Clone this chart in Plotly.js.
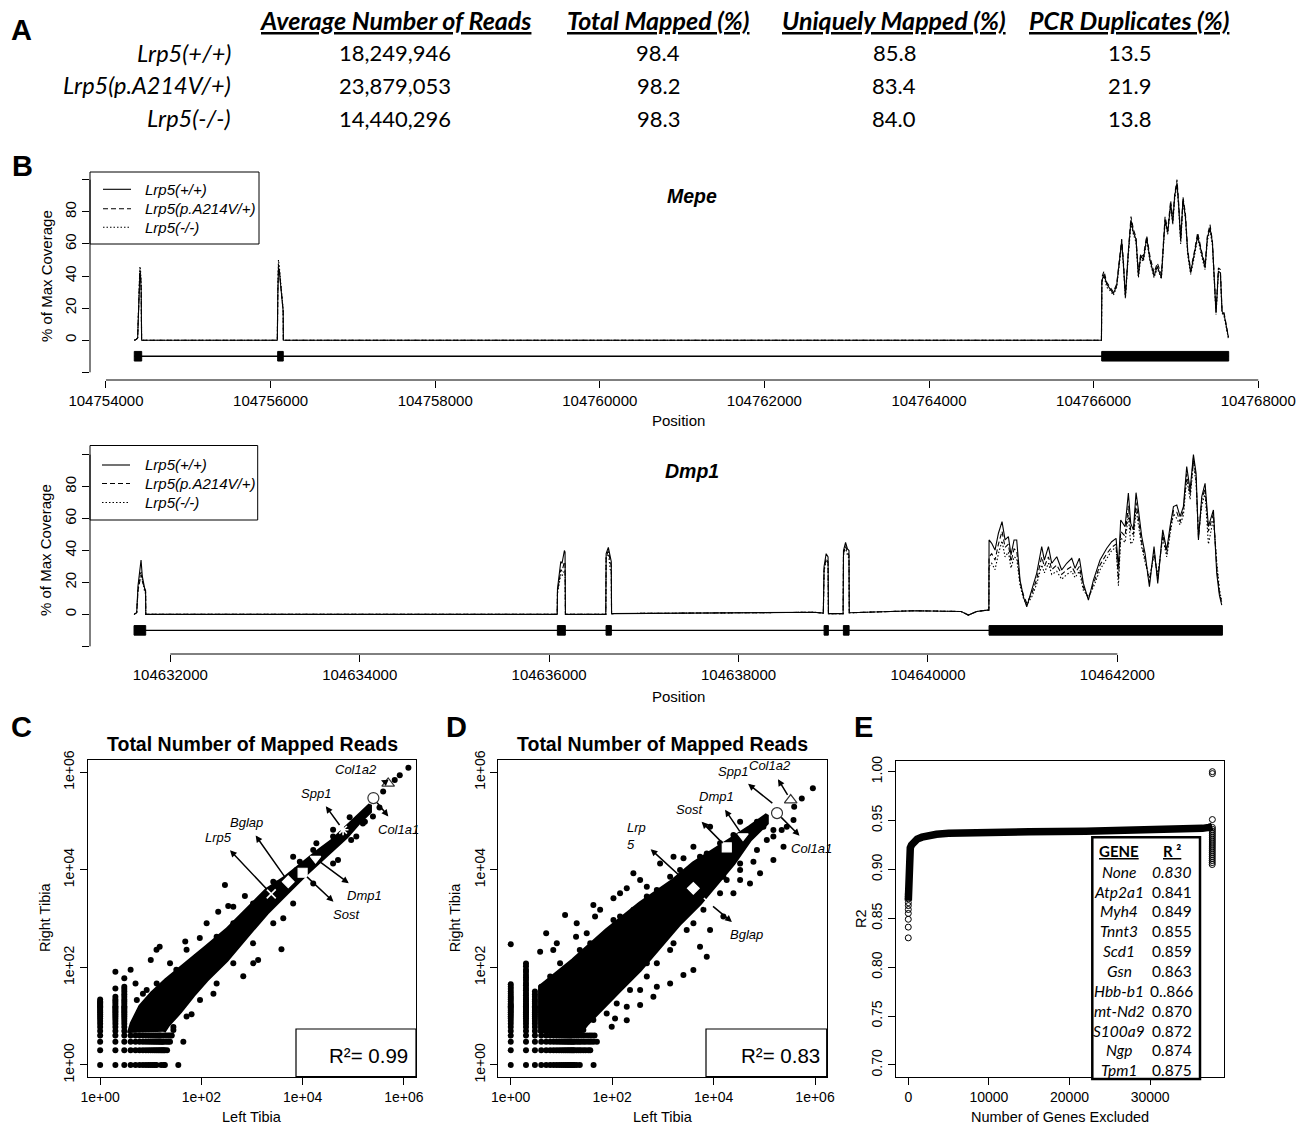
<!DOCTYPE html>
<html><head><meta charset="utf-8">
<script src="https://cdn.plot.ly/plotly-3.0.1.min.js"></script>
<style>html,body{margin:0;padding:0;background:#fff}#chart{width:1307px;height:1124px}</style>
</head><body><div id="chart"></div>
<script>
// ---------------- Panel A: table ----------------
const aGenotypes = ['Lrp5(+/+)', 'Lrp5(p.A214V/+)', 'Lrp5(-/-)'];
const aHeaders = ['Average Number of Reads', 'Total Mapped (%)', 'Uniquely Mapped (%)', 'PCR Duplicates (%)'];
const aAvgReads = [18249946, 23879053, 14440296];
const aTotalMapped = [98.4, 98.2, 98.3];
const aUniquelyMapped = [85.8, 83.4, 84.0];
const aPcrDuplicates = [13.5, 21.9, 13.8];

// ---------------- Panel B: coverage ----------------
const genotypeNames = ['Lrp5(+/+)', 'Lrp5(p.A214V/+)', 'Lrp5(-/-)'];
const mepeTicks = [104754000, 104756000, 104758000, 104760000, 104762000, 104764000, 104766000, 104768000];
const mepePos = [104754344,104754370,104754385,104754392,104754402,104754412,104754420,104754428,104754433,
  104756082,104756088,104756096,104756106,104756116,104756126,104756136,104756146,104756153,104756155,
  104760000,104766095,
  104766100,104766106,104766126,104766159,104766199,104766240,104766280,104766309,104766341,104766361,
  104766386,104766422,104766454,104766483,104766515,104766544,104766572,104766604,104766645,104766685,
  104766734,104766774,104766823,104766868,104766900,104766936,104766961,104766985,104767013,104767034,
  104767058,104767086,104767115,104767143,104767179,104767220,104767264,104767309,104767354,104767382,
  104767414,104767443,104767467,104767487,104767516,104767540,104767560,104767585,104767637];
const mepeWT = [0,0.5,1.5,15,35,42,40,30,0, 0,28,45,43,38,30,25,20,18,0, 0,0,
  36,38,41,35,32,29,34,46,62,48, 27,55,75,67,63,40,53,50,64,50, 40,46,39,75,67,85,73,90,98,83,
  62,88,77,55,42,53,65,55,45,64, 70,61,34,17,43,42,18,16,2];
const mepeA214V = [0,0.5,1.5,16,38,44,41,32,0, 0,30,47,44,38,31,26,19,18,0, 0,0,
  38,40,43,36,33,30,35,48,63,50, 28,56,77,69,64,42,54,52,65,52, 42,48,41,77,69,87,75,91,100,85,
  63,89,79,56,44,54,67,56,47,65, 72,62,35,18,45,44,19,17,2];
const mepeKO = [0,0.5,1.5,18,40,46,44,34,0, 0,32,50,46,40,32,27,21,19,0, 0,0,
  35,37,40,33,31,28,33,45,60,47, 26,53,73,66,61,39,51,49,62,49, 39,45,38,74,66,84,72,88,97,82,
  60,86,76,53,41,51,64,53,44,62, 69,59,33,16,42,41,17,15,1];
const mepeExonStart = [104754344, 104756086, 104766098];
const mepeExonEnd = [104754434, 104756154, 104767641];

const dmpTicks = [104632000, 104634000, 104636000, 104638000, 104640000, 104642000];
const dmpPos = [104631617,104631645,104631659,104631680,104631691,104631704,104631715,104631730,104631739,104631741,
  104633000,104635000,104636085,
  104636088,104636105,104636123,104636136,104636150,104636161,104636168,104636172,
  104636598,
  104636602,104636625,104636645,104636656,104636659,
  104637200,104638000,104638600,104638800,104638895,
  104638903,104638925,104638945,104638949,
  104639104,
  104639108,104639130,104639150,104639166,104639169,
  104639350,104639494,104639700,104639846,104640000,104640198,104640350,104640427,104640515,104640627,104640643,
  104640645,104640673,104640708,104640744,104640782,104640814,104640849,104640877,104640909,104640937,
  104640972,104641008,104641043,104641096,104641148,104641201,104641229,104641272,104641307,104641360,
  104641412,104641465,104641518,104641553,104641599,104641641,104641694,104641747,104641817,104641888,
  104641940,104641986,104642011,104642035,104642081,104642116,104642141,104642169,104642197,104642222,
  104642257,104642292,104642338,104642387,104642426,104642479,104642521,104642556,104642592,104642627,
  104642662,104642697,104642732,104642768,104642803,104642831,104642856,104642891,104642926,104642961,
  104643014,104643049,104643077,104643102];
const dmpWT = [0,1,18,28,34,24,20,16,15,0, 0,0,0, 16,25,33,32,36,40,39,0, 0, 38,42,35,33,0.5,
  0.6,0.7,0.8,1.3,0.8, 30,38,36,0.5, 0.5, 40,45,41,40,1,
  1.2,1.6,2.0,2.3,2.1,2.3,1.8,-0.4,1.8,2.7,2.6,
  46.6,44.5,40.3,50.8,58.1,46.6,48.7,37.2,46.6,46.6,
  21.5,11,4.8,15.2,25.7,42.4,34,42.4,32,36.1,
  27.8,32,35.1,28.8,35.1,19.4,9,21.5,34,41.4,
  45.5,47.6,29.8,59.1,54.9,75.9,57,52.9,76.2,65.4,
  48.7,38.2,17.3,42.4,19.4,52.9,40.3,54.9,67.5,68.5,
  61.2,67.5,92.5,77.9,100,88.4,46.6,73.7,82.1,54.9,
  65.4,25.7,12.1,5.8];
const dmpA214V = [0,1,15,22,25,21,19,15,14,0, 0,0,0, 14,20,28,27,30,33,32,0, 0, 36,40,32,30,0.5,
  0.6,0.7,0.8,1.3,0.8, 28,35,33,0.5, 0.5, 38,43,39,37,1,
  1.2,1.6,2.0,2.3,2.1,2.3,1.8,-0.4,1.8,2.7,2.6,
  36,38,34,44,52,42,44,33,41,40,
  20,12,7,13,22,36,30,36,28,31,
  25,28,30,26,30,17,10,19,31,38,
  42,44,22,52,49,68,52,50,70,60,
  45,35,20,40,22,50,38,52,65,64,
  58,65,88,75,98,85,48,72,79,52,
  63,30,14,7];
const dmpKO = [0,1,16,24,27,22,18,14,13,0, 0,0,0, 13,18,25,24,26,28,28,0, 0, 35,39,28,27,0.5,
  0.6,0.7,0.8,1.3,0.8, 27,34,32,0.5, 0.5, 37,42,37,35,1,
  1.2,1.6,2.0,2.3,2.1,2.3,1.8,-0.4,1.8,2.7,2.6,
  30,32,28,38,46,36,39,29,36,35,
  18,10,6,11,19,31,26,32,25,27,
  22,25,27,23,27,15,11,17,28,35,
  40,42,18,48,45,62,44,46,66,56,
  42,33,23,37,25,48,36,50,63,60,
  56,62,85,72,95,82,50,68,76,44,
  60,33,16,8];
const dmpExonStart = [104631617, 104636087, 104636601, 104638903, 104639107, 104640645];
const dmpExonEnd = [104631740, 104636171, 104636657, 104638948, 104639167, 104643109];

// ---------------- Panels C / D: mapped reads (left vs right tibia) ----------------
const logTickVals = [1, 100, 10000, 1000000];
const logTickText = ['1e+00', '1e+02', '1e+04', '1e+06'];
const geneNames = ['Lrp5', 'Bglap', 'Sost', 'Dmp1', 'Spp1', 'Col1a1', 'Col1a2'];

// C: dense core outline (left, right counts)
const cCoreLeft = [3.7,4.2,6.2,10.5,20,51,126,316,776,1950,4790,12000,21900,39800,74100,135000,214000,
  214000,135000,74100,29500,12000,4790,1950,776,316,126,69,38,22,18];
const cCoreRight = [4.5,7.1,15.8,29.5,55,120,263,589,1514,3890,7240,15850,25700,40700,75900,132000,214000,
  155000,97700,47900,20000,8500,3310,1290,427,141,55,27,12.3,6.6,4.8];
// C: low-count genes
const cCol1Right = [1,2,3,4,5,6,7,8,9,10,11,12,13,14,15,16,17,18,19,20,22];
const cCol2Right = [1,2,3,4,5,6,7,8,9,10,11,12,13,14,15,16,18,20,22,25];
const cCol3Right = [1,2,3,4,5,6,7,8,9,10,11,12,13,14,15,16,18,20,22,25,28,32,36,40];
const cRow1Left = [4,5,6,7,8,9,10,11,12,13,16,19];
const cRow2Left = [4,5,6,7,8,9,10,11,12,13,14,15,16,17,18,19,21];
const cRow3Left = [4,5,6,7,8,9,10,11,12,13,14,15,16,17,18,20,22,24];
const cRow4Left = [4,5,6,7,8,9,10,11,12,13,14,15,16,18,20,22,24,26];
// C: scattered genes
const cOutLeft = [292,724,339,215,48,93,51,13,15,10,4,2,2,3,24,6500,16200,4150,3820,672,1060,1320,64,41,28,44,35,18,
  91000,155000,1230000,830000,660000,390000,330000,170000,85000,40000,18700,8800,2630,1430,1940,427,127,93,173,7,5,50000,
  5.3,8.3,13.1,32,81,200,427,1050,3060,7560,40000,
  28,51,94,200,427,1050,2630,6500,16200,40000,115000,245000];
const cOutRight = [4890,2890,1820,1380,339,398,229,229,265,141,89,81,37,60,121,18600,25500,1020,235,66,121,142,11,18,6,3,1,1,
  40700,89000,1230000,870000,690000,400000,190000,97000,120000,66000,35000,14700,5700,1740,2600,1740,800,65,29,29,47,15800,
  21.5,34.5,47,89,166,427,800,2050,5260,9900,47900,
  5.2,9.8,21.5,47,121,311,800,2050,5260,13500,47900,123000];
const cGeneLeft = [2400, 5200, 10000, 18000, 63000, 250000, 490000];
const cGeneRight = [3200, 5700, 8700, 17000, 66000, 295000, 590000];
const cGeneSymbols = ['x-thin-open', 'diamond', 'square', 'triangle-down', 'asterisk-open', 'circle', 'triangle-up'];
const cR2 = 0.99;

// D
const dCoreLeft = [3.8,3.8,17,78,355,1620,3980,9900,21000,52000,112000,
  112000,52000,24600,11500,5390,2180,880,355,144,58,32,23];
const dCoreRight = [4.5,40,141,585,2050,6150,13500,25500,41000,76000,133000,
  89900,41000,13500,5260,2050,800,266,89,34.5,13.4,7.0,4.5];
const dCol1Right = [1,2,3,4,5,6,7,8,9,10,11,12,13,14,15,16,17,18,20,22,24,26,29,32,36,40,45];
const dCol2Right = [1,2,3,4,5,6,7,8,9,10,11,12,13,14,15,16,17,18,20,22,24,27,30,34,38,43,48,55,62,70,80,90,105,120];
const dCol3Right = [1,2,3,4,5,6,7,8,9,10,11,12,13,14,15,16,18,20,22,25,28,32];
const dCol4Right = [1,2,3,4,5,6,7,8,9,10,11,12,13,14,15,16,18,20,23,26,30,35,40];
const dRow1Left = [5,6,7,8,9,10,11,12,13,14,15,16,17,18,20,23];
const dRow2Left = [5,6,7,8,9,10,11,12,13,14,15,16,17,18,20,22,24,27,30,34,37];
const dRow3Left = [5,6,7,8,9,10,11,12,13,14,15,16,17,18,20,22,24,27,30,34,38,43,50];
const dRow4Left = [5,6,7,8,9,10,11,12,13,14,15,16,18,20,22,25,28,32,36,40,45];
const dOutLeft = [11.8,5,3.8,6.9,8.1,20,19.4,31.5,42.6,46,57.9,106,143,262,356,482,194,881,1620,2550,4000,8520,33300,27,98,
  114,194,356,650,760,1390,2540,3990,7330,8520,15600,24600,52200,82400,151000,239000,33300,61000,112000,220000,
  376000,388000,548000,906000,151000,5400,1620,482,58,356,194,33300,45200,96000,1190,650,106,31.5,12.7,15600,4000,1,43,
  6,9.4,23,37,67,143,262,482,760,1390,2180,5390,7330,13400,24600,71600,
  42.6,78,123,225,482,760,1390,2950,6300,13400,18100,33300,71600,151000,277000];
const dOutRight = [1185,499,210,228,311,800,427,500,1900,1100,1510,2600,3300,8500,6170,4500,4170,13500,18600,17200,29700,76000,97000,5.2,6.1,
  9,8.3,17,25,40,47,70,88,166,585,1100,3300,5260,8500,15900,29800,6170,14700,40700,65300,
  105000,196000,290000,468000,65300,265,311,121,121,34.5,15.7,13500,47900,76000,2820,1510,933,228,89,7240,800,297,1,
  65,121,228,311,427,1100,1510,2820,3860,7240,9900,18600,21700,34800,51600,97000,
  8.4,11.4,18.3,34.5,65,121,228,585,1510,3300,6170,9900,25400,47900,76000];
const dGeneLeft = [3980, 7900, 18200, 38000, 178000, 178000, 331000];
const dGeneRight = [4170, 2140, 28800, 49000, 195000, 145000, 269000];
const dGeneSymbols = ['diamond', 'x-thin-open', 'square', 'triangle-down', 'asterisk-open', 'circle', 'triangle-up'];
const dR2 = 0.83;

// ---------------- Panel E: R2 vs genes excluded ----------------
const eFirstExcluded = [0,1,2,3,4,5,6,7,8,9,10];
const eFirstR2 = [0.830,0.841,0.849,0.855,0.859,0.863,0.866,0.870,0.872,0.874,0.875];
const eBandExcluded = [5,15,40,80,150,250,400,700,1100,1700,2500,3500,5000,8000,15000,22000,28000,32000,35000,36500,37300,37700];
const eBandR2 = [0.868,0.89,0.905,0.912,0.918,0.922,0.925,0.928,0.931,0.933,0.935,0.936,0.937,0.938,0.9385,0.939,0.9395,0.940,0.941,0.942,0.943,0.944];
const eEndExcluded = [37700,37701,37702,37703,37704,37705,37706,37707,37708,37709,37710,37711,37712,37713,37714,37715,37716,37717,37718,37719,37720,37721,37722];
const eEndR2 = [0.905,0.907,0.909,0.911,0.913,0.915,0.917,0.919,0.921,0.923,0.925,0.927,0.929,0.931,0.933,0.935,0.937,0.939,0.941,0.943,0.951,0.998,1.000];
const eTableGenes = ['None','Atp2a1','Myh4','Tnnt3','Scd1','Gsn','Hbb-b1','mt-Nd2','S100a9','Ngp','Tpm1'];
const eTableR2Text = ['0.830','0.841','0.849','0.855','0.859','0.863','0..866','0.870','0.872','0.874','0.875'];

// ================= drawing =================
const W = 1307, H = 1124;
const fx = p => p / W, fy = p => 1 - p / H;
const FONT = 'Liberation Sans, Arial, Helvetica, sans-serif';
const CAL = 'Lato, Carlito, sans-serif';
const BLK = '#000';
const traces = [];
const annotations = [];
const shapes = [];

// ---- Panel B traces
const dashes = ['solid', '5px,3px', '1.5px,2px'];
[[mepeWT, mepeA214V, mepeKO, 'x', 'y'], [dmpWT, dmpA214V, dmpKO, 'x2', 'y2']].forEach((g, gi) => {
  const pos = gi === 0 ? mepePos : dmpPos;
  [g[0], g[1], g[2]].forEach((vals, i) => {
    traces.push({type: 'scatter', mode: 'lines', x: pos, y: vals, xaxis: g[3], yaxis: g[4], showlegend: false,
      name: genotypeNames[i], line: {color: BLK, width: 1.1, dash: dashes[i]}, hoverinfo: 'skip'});
  });
});
function geneModel(starts, ends, xa, ya) {
  const gx = [], gy = [];
  starts.forEach((s, i) => { gx.push(s, ends[i], ends[i], s, s, null); gy.push(-13, -13, -7, -7, -13, null); });
  traces.push({type: 'scatter', mode: 'lines', x: [starts[0], ends[ends.length - 1]], y: [-10, -10], xaxis: xa, yaxis: ya,
    line: {color: BLK, width: 1.4}, showlegend: false, hoverinfo: 'skip'});
  traces.push({type: 'scatter', mode: 'lines', x: gx, y: gy, fill: 'toself', fillcolor: BLK, xaxis: xa, yaxis: ya,
    line: {color: BLK, width: 1}, showlegend: false, hoverinfo: 'skip'});
}
geneModel(mepeExonStart, mepeExonEnd, 'x', 'y');
geneModel(dmpExonStart, dmpExonEnd, 'x2', 'y2');

// ---- Panels C/D traces
function scatterPanel(xa, ya, core, cols, rows, outL, outR, gL, gR, sym) {
  traces.push({type: 'scatter', mode: 'lines', x: core[0], y: core[1], fill: 'toself', fillcolor: BLK,
    line: {color: BLK, width: 4}, xaxis: xa, yaxis: ya, showlegend: false, hoverinfo: 'skip'});
  const lx = [], ly = [];
  cols.forEach((arr, i) => arr.forEach(v => { lx.push(i + 1); ly.push(v); }));
  rows.forEach((arr, i) => arr.forEach(v => { lx.push(v); ly.push(i + 1); }));
  outL.forEach((v, i) => { lx.push(v); ly.push(outR[i]); });
  traces.push({type: 'scatter', mode: 'markers', x: lx, y: ly, xaxis: xa, yaxis: ya, showlegend: false, hoverinfo: 'skip',
    marker: {color: BLK, size: 6, symbol: 'circle', line: {width: 0}}});
  gL.forEach((v, i) => {
    const open = sym[i].indexOf('open') >= 0;
    traces.push({type: 'scatter', mode: 'markers', x: [v], y: [gR[i]], xaxis: xa, yaxis: ya, showlegend: false, hoverinfo: 'skip',
      marker: {symbol: sym[i], size: i >= 5 ? 11 : 9, color: '#fff',
        line: {color: open ? '#ddd' : (i >= 5 ? '#333' : '#fff'), width: open ? 1.6 : 1.2}}});
  });
}
scatterPanel('x3', 'y3', [cCoreLeft, cCoreRight], [cCol1Right, cCol2Right, cCol3Right],
  [cRow1Left, cRow2Left, cRow3Left, cRow4Left], cOutLeft, cOutRight, cGeneLeft, cGeneRight, cGeneSymbols);
scatterPanel('x4', 'y4', [dCoreLeft, dCoreRight], [dCol1Right, dCol2Right, dCol3Right, dCol4Right],
  [dRow1Left, dRow2Left, dRow3Left, dRow4Left], dOutLeft, dOutRight, dGeneLeft, dGeneRight, dGeneSymbols);

// ---- Panel E traces
traces.push({type: 'scatter', mode: 'lines', x: eBandExcluded, y: eBandR2, xaxis: 'x5', yaxis: 'y5', showlegend: false,
  line: {color: BLK, width: 7.5}, hoverinfo: 'skip'});
traces.push({type: 'scatter', mode: 'markers', x: eFirstExcluded.concat(eEndExcluded), y: eFirstR2.concat(eEndR2),
  xaxis: 'x5', yaxis: 'y5', showlegend: false, hoverinfo: 'skip',
  marker: {symbol: 'circle-open', size: 6, color: BLK, line: {color: BLK, width: 1}}});

// ---- annotations helpers
function fnt(family, size, weight, style) {
  return {family: family, size: size, color: BLK, weight: weight || 'normal', style: style || 'normal'};
}
function txt(x, y, text, o) {
  annotations.push(Object.assign({xref: 'paper', yref: 'paper', x: fx(x), y: fy(y), text: text, showarrow: false,
    xanchor: 'center', yanchor: 'middle', font: fnt(FONT, 15)}, o || {}));
}

// Panel letters
[['A', 21, 30], ['B', 22, 166], ['C', 21, 727], ['D', 456, 727], ['E', 863, 727]].forEach(l =>
  txt(l[1], l[2], l[0], {font: fnt(FONT, 29, 'bold')}));

// Panel A table
const aColX = [395, 658, 894, 1129];
aHeaders.forEach((h, i) => txt(aColX[i], 20, '<u>' + h + '</u>', {font: fnt(CAL, 25, 'bold', 'italic')}));
const aRowY = [53, 85, 118];
aGenotypes.forEach((g, i) => {
  txt(233, aRowY[i], g, {xanchor: 'right', font: fnt(CAL, 23.5, 'normal', 'italic')});
  const vals = [aAvgReads[i].toLocaleString('en-US'), aTotalMapped[i].toFixed(1), aUniquelyMapped[i].toFixed(1), aPcrDuplicates[i].toFixed(1)];
  vals.forEach((v, j) => txt(aColX[j], aRowY[i], v, {font: fnt(CAL, 22)}));
});

// Panel B titles, labels, legends
txt(692, 196, 'Mepe', {font: fnt(FONT, 19.5, 'bold', 'italic')});
txt(692, 471, 'Dmp1', {font: fnt(FONT, 19.5, 'bold', 'italic')});
txt(678, 421, 'Position');
txt(678, 696, 'Position');
txt(46, 276, '% of Max Coverage', {textangle: -90});
txt(46, 550, '% of Max Coverage', {textangle: -90});
function legendBox(x0, y0, x1, y1, rowsY, lx0, lx1, tx) {
  shapes.push({type: 'rect', xref: 'paper', yref: 'paper', x0: fx(x0), x1: fx(x1), y0: fy(y1), y1: fy(y0),
    line: {color: BLK, width: 1}, fillcolor: '#fff', layer: 'above'});
  genotypeNames.forEach((g, i) => {
    shapes.push({type: 'line', xref: 'paper', yref: 'paper', x0: fx(lx0), x1: fx(lx1), y0: fy(rowsY[i]), y1: fy(rowsY[i]),
      line: {color: BLK, width: 1.1, dash: dashes[i]}, layer: 'above'});
    txt(tx, rowsY[i], g, {xanchor: 'left', font: fnt(FONT, 15, 'normal', 'italic')});
  });
}
legendBox(90, 172, 259, 244, [189.3, 208.7, 227.3], 103, 131, 143);
legendBox(90, 445.5, 257.7, 520, [465, 483.5, 502.5], 102, 130, 142.5);

// Panels C/D titles
[[252, 88], [662.5, 498.3]].forEach(p => {
  txt(p[0], 744, 'Total Number of Mapped Reads', {font: fnt(FONT, 19.5, 'bold')});
  txt(p[0], 1117, 'Left Tibia', {font: fnt(FONT, 14.5)});
  txt(p[1] - 43, 918, 'Right Tibia', {textangle: -90, font: fnt(FONT, 14.5)});
});
// R2 boxes
[[296, 416, 368, cR2], [706, 826.7, 780, dR2]].forEach(b => {
  shapes.push({type: 'rect', xref: 'paper', yref: 'paper', x0: fx(b[0]), x1: fx(b[1]), y0: fy(1076.7), y1: fy(1029),
    line: {color: BLK, width: 1.2}, fillcolor: '#fff', layer: 'above'});
  txt(b[2], 1055, 'R\u00B2= ' + b[3].toFixed(2), {font: fnt(FONT, 20.5)});
});

// gene labels with arrows: label position (log10 units); arrow from label to gene point, head at label side
const cLabelPos = [[2.33, 4.66], [2.89, 4.97], [4.87, 3.09], [5.23, 3.48], [4.27, 5.57], [5.90, 4.83], [5.05, 6.06]];
const dLabelPos = [[2.47, 4.70], [4.65, 2.68], [3.52, 5.24], [4.05, 5.50], [4.38, 6.01], [5.94, 4.44], [5.11, 6.13]];
function geneLabels(xa, ya, lab, gL, gR) {
  geneNames.forEach((g, i) => {
    let t = g;
    if (xa === 'x4' && g === 'Lrp5') t = 'Lrp<br>5';
    annotations.push({xref: xa, yref: ya, x: Math.log10(gL[i]), y: Math.log10(gR[i]), ax: lab[i][0], ay: lab[i][1],
      axref: xa, ayref: ya, text: t, showarrow: true, arrowside: 'start', arrowhead: 2, startarrowhead: 2,
      arrowsize: 0.9, startarrowsize: 0.9, arrowwidth: 1.5, arrowcolor: BLK, standoff: 6, startstandoff: 5,
      align: 'left', font: fnt(FONT, 13, 'normal', 'italic')});
  });
}
geneLabels('x3', 'y3', cLabelPos, cGeneLeft, cGeneRight);
geneLabels('x4', 'y4', dLabelPos, dGeneLeft, dGeneRight);

// Panel E labels & table
txt(1060, 1117, 'Number of Genes Excluded', {font: fnt(FONT, 14.5)});
txt(861, 919, 'R2', {textangle: -90, font: fnt(FONT, 14.5)});
shapes.push({type: 'rect', xref: 'paper', yref: 'paper', x0: fx(1092.3), x1: fx(1200), y0: fy(1079), y1: fy(837.3),
  line: {color: BLK, width: 2.5}, fillcolor: '#fff', layer: 'above'});
txt(1119, 850.7, '<u>GENE</u>', {font: fnt(CAL, 15, 'bold')});
txt(1171.7, 850.7, '<u>R \u00B2</u>', {font: fnt(CAL, 15, 'bold')});
eTableGenes.forEach((g, i) => {
  const y = 871.7 + i * 19.85;
  txt(1119, y, g, {font: fnt(CAL, 15.5, 'normal', 'italic')});
  txt(1171.7, y, eTableR2Text[i], {font: fnt(CAL, 15.5, 'normal', i === 0 ? 'italic' : 'normal')});
});

// ---- R-style axis lines for panel B
[['x', 'y', mepeTicks, 380], ['x2', 'y2', dmpTicks, 654]].forEach(a => {
  shapes.push({type: 'line', xref: a[0], yref: 'paper', x0: a[2][0], x1: a[2][a[2].length - 1], y0: fy(a[3]), y1: fy(a[3]),
    line: {color: BLK, width: 1}});
  shapes.push({type: 'line', xref: 'paper', yref: a[1], x0: fx(90), x1: fx(90), y0: -20, y1: 100, line: {color: BLK, width: 1}});
});

// ---- axes
const tickFontB = {family: FONT, size: 15, color: BLK};
const tickFont = {family: FONT, size: 14, color: BLK};
function baseAxis(extra) {
  return Object.assign({showgrid: false, zeroline: false, ticks: 'outside', ticklen: 7, tickwidth: 1, tickcolor: BLK,
    fixedrange: true}, extra);
}
const covY = {tickvals: [0, 20, 40, 60, 80], ticktext: ['0', '20', '40', '60', '80'], range: [-24.8, 104.8],
  tickangle: -90, tickfont: tickFontB, showline: false,
  minor: {tickmode: 'array', tickvals: [-20, 100], ticks: 'outside', ticklen: 7, tickwidth: 1, tickcolor: BLK, showgrid: false}};
const boxAx = {showline: true, mirror: true, linecolor: BLK, linewidth: 1};

const layout = {
  width: W, height: H, margin: {l: 0, r: 0, t: 0, b: 0}, paper_bgcolor: '#fff', plot_bgcolor: 'rgba(0,0,0,0)',
  showlegend: false,
  xaxis: baseAxis({domain: [fx(90), fx(1271)], range: [104753806, 104768155], anchor: 'y', tickvals: mepeTicks,
    ticktext: mepeTicks.map(String), tickfont: tickFontB, showline: false}),
  yaxis: baseAxis(Object.assign({domain: [fy(380), fy(172)], anchor: 'x'}, covY)),
  xaxis2: baseAxis({domain: [fx(90), fx(1271)], range: [104631152, 104643622], anchor: 'y2', tickvals: dmpTicks,
    ticktext: dmpTicks.map(String), tickfont: tickFontB, showline: false}),
  yaxis2: baseAxis(Object.assign({domain: [fy(654), fy(447)], anchor: 'x2'}, covY)),
  xaxis3: baseAxis(Object.assign({domain: [fx(88), fx(416)], type: 'log', range: [-0.24, 6.24], anchor: 'y3',
    tickvals: logTickVals, ticktext: logTickText, tickfont: tickFont}, boxAx)),
  yaxis3: baseAxis(Object.assign({domain: [fy(1076.7), fy(760)], type: 'log', range: [-0.24, 6.25], anchor: 'x3',
    tickvals: logTickVals, ticktext: logTickText, tickfont: tickFont, tickangle: -90}, boxAx)),
  xaxis4: baseAxis(Object.assign({domain: [fx(498.3), fx(826.7)], type: 'log', range: [-0.245, 6.23], anchor: 'y4',
    tickvals: logTickVals, ticktext: logTickText, tickfont: tickFont}, boxAx)),
  yaxis4: baseAxis(Object.assign({domain: [fy(1076.7), fy(760)], type: 'log', range: [-0.24, 6.25], anchor: 'x4',
    tickvals: logTickVals, ticktext: logTickText, tickfont: tickFont, tickangle: -90}, boxAx)),
  xaxis5: baseAxis(Object.assign({domain: [fx(895.7), fx(1224.3)], range: [-1560, 39200], anchor: 'y5',
    tickvals: [0, 10000, 20000, 30000], ticktext: ['0', '10000', '20000', '30000'], tickfont: tickFont}, boxAx)),
  yaxis5: baseAxis(Object.assign({domain: [fy(1076.7), fy(760.7)], range: [0.688, 1.0112], anchor: 'x5',
    tickvals: [0.70, 0.75, 0.80, 0.85, 0.90, 0.95, 1.00], ticktext: ['0.70', '0.75', '0.80', '0.85', '0.90', '0.95', '1.00'],
    tickfont: tickFont, tickangle: -90}, boxAx)),
  annotations: annotations,
  shapes: shapes
};
Plotly.newPlot('chart', traces, layout, {staticPlot: true, displayModeBar: false});
</script>
</body></html>
